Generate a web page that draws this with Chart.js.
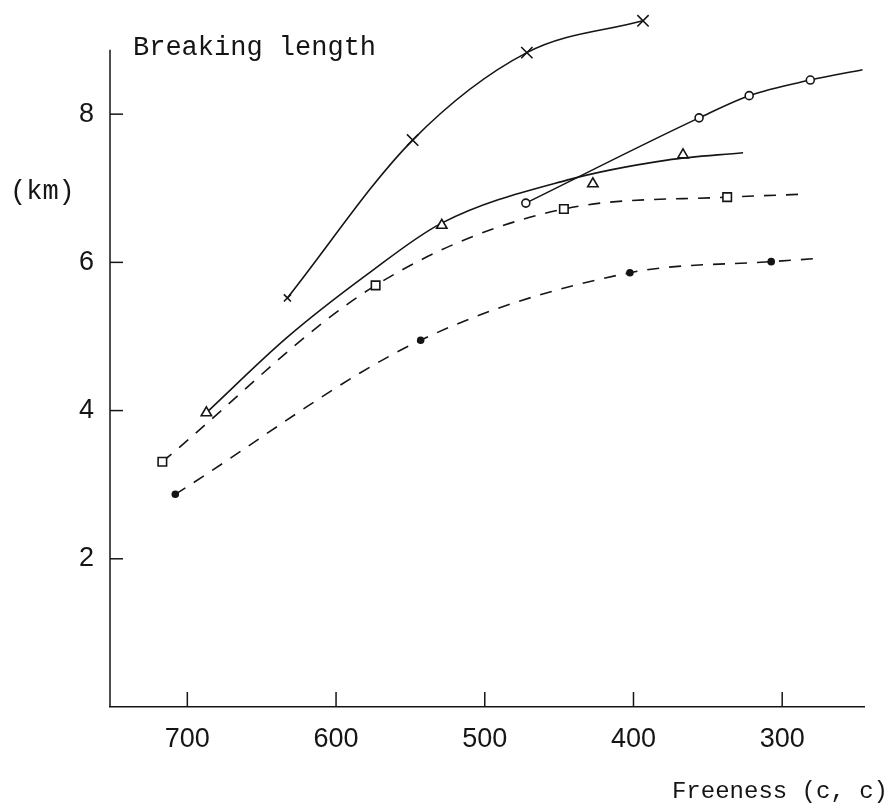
<!DOCTYPE html>
<html>
<head>
<meta charset="utf-8">
<script src="https://cdn.jsdelivr.net/npm/chart.js@4.4.0/dist/chart.umd.min.js"></script>
<style>
  html, body { margin: 0; padding: 0; background: #fff; }
  canvas { display: block; }
</style>
</head>
<body>
<canvas id="chart" width="895" height="808"></canvas>
<script>
// ticks
const xTicks = [700, 600, 500, 400, 300]
const yTicks = [2, 4, 6, 8]
const yAxisTop = 8.87 // drawn y axis stops here, marks may go above

// X marks (solid)
const crossX = [632.7, 548.5, 471.7, 393.6]
const crossY = [5.52, 7.65, 8.83, 9.26]

// circles (solid)
const circleX = [472.4, 355.9, 322.2, 281.1]
const circleY = [6.80, 7.95, 8.25, 8.46]
const circleCurveX = [472.4, 355.9, 322.2, 281.1, 246]
const circleCurveY = [6.80, 7.95, 8.25, 8.46, 8.60]

// triangles (solid)
const triX = [687.2, 528.9, 427.3, 366.7]
const triY = [3.97, 6.50, 7.06, 7.45]
const triCurveX = [687.2, 633.3, 579.5, 529, 444.8, 377.4, 326.3]
const triCurveY = [3.97, 4.98, 5.83, 6.53, 7.11, 7.38, 7.48]

// squares (dashed)
const squareX = [716.8, 573.4, 446.8, 337]
const squareY = [3.31, 5.69, 6.72, 6.88]
const squareCurveX = [716.8, 573.4, 446.8, 337, 285.9]
const squareCurveY = [3.31, 5.69, 6.72, 6.88, 6.92]

// dots (dashed)
const dotX = [708.1, 543.1, 402.4, 307.4]
const dotY = [2.87, 4.95, 5.86, 6.01]
const dotCurveX = [708.1, 543.1, 402.4, 307.4, 277.8]
const dotCurveY = [2.87, 4.95, 5.86, 6.01, 6.05]

const ink = '#151515'
const pts = (xs, ys) => xs.map((x, i) => ({ x: x, y: ys[i] }))

const curve = (xs, ys, dash) => ({
  data: pts(xs, ys),
  showLine: true,
  borderColor: ink,
  borderWidth: 1.6,
  borderDash: dash,
  pointRadius: 0,
  cubicInterpolationMode: 'monotone',
  clip: false,
  order: 1,
})

const marks = (xs, ys, style, radius, fill) => ({
  data: pts(xs, ys),
  showLine: false,
  pointStyle: style,
  pointRadius: radius,
  pointBorderColor: ink,
  pointBackgroundColor: fill,
  pointBorderWidth: 1.6,
  clip: false,
  order: 0,
})

const extras = {
  id: 'extras',
  afterDraw(chart) {
    const { ctx, scales: { x, y } } = chart
    ctx.save()
    ctx.strokeStyle = ink
    ctx.lineWidth = 1.5
    // y axis line, shorter than the plot area
    ctx.beginPath()
    ctx.moveTo(x.left, y.getPixelForValue(yAxisTop))
    ctx.lineTo(x.left, y.bottom)
    ctx.stroke()
    xTicks.forEach((v) => {
      const px = x.getPixelForValue(v)
      ctx.beginPath()
      ctx.moveTo(px, y.bottom)
      ctx.lineTo(px, y.bottom - 15)
      ctx.stroke()
    })
    yTicks.forEach((v) => {
      const py = y.getPixelForValue(v)
      ctx.beginPath()
      ctx.moveTo(x.left, py)
      ctx.lineTo(x.left + 13, py)
      ctx.stroke()
    })
    ctx.fillStyle = ink
    ctx.font = '27px "Liberation Mono", monospace'
    ctx.textBaseline = 'alphabetic'
    ctx.textAlign = 'left'
    ctx.fillText('Breaking length', 133, 55)
    ctx.fillText('(km)', 10, 199)
    ctx.font = '24px "Liberation Mono", monospace'
    ctx.textAlign = 'right'
    ctx.fillText('Freeness (c, c)', 888, 798)
    ctx.restore()
  },
}

new Chart(document.getElementById('chart').getContext('2d'), {
  type: 'scatter',
  data: {
    datasets: [
      curve(crossX, crossY, []),
      curve(circleCurveX, circleCurveY, []),
      curve(triCurveX, triCurveY, []),
      curve(squareCurveX, squareCurveY, [12, 10]),
      curve(dotCurveX, dotCurveY, [12, 10]),
      {
        ...marks(crossX, crossY, 'crossRot', 8, ink),
        pointRadius: (c) => (c.dataIndex === 0 ? 5 : 8),
      },
      marks(circleX, circleY, 'circle', 4, '#fff'),
      marks(triX, triY, 'triangle', 6, '#fff'),
      marks(squareX, squareY, 'rect', 6, '#fff'),
      marks(dotX, dotY, 'circle', 3, ink),
    ],
  },
  options: {
    responsive: false,
    animation: false,
    devicePixelRatio: 1,
    layout: {
      autoPadding: false,
      padding: { top: 3, right: 31, left: 0, bottom: 0 },
    },
    plugins: {
      legend: { display: false },
      tooltip: { enabled: false },
    },
    scales: {
      x: {
        type: 'linear',
        reverse: true,
        min: 245,
        max: 752,
        afterBuildTicks: (scale) => {
          scale.ticks = xTicks.map((v) => ({ value: v }))
        },
        afterFit: (scale) => {
          scale.height = 101
          scale.paddingLeft = 0
          scale.paddingRight = 0
        },
        grid: { display: false, drawTicks: false },
        border: { display: true, color: ink, width: 1.5 },
        ticks: {
          color: ink,
          padding: 16,
          font: { family: '"Liberation Sans", sans-serif', size: 27 },
        },
      },
      y: {
        type: 'linear',
        min: 0,
        max: 9.5,
        afterBuildTicks: (scale) => {
          scale.ticks = yTicks.map((v) => ({ value: v }))
        },
        afterFit: (scale) => {
          scale.width = 110
          scale.paddingTop = 0
          scale.paddingBottom = 0
        },
        grid: { display: false, drawTicks: false },
        border: { display: false },
        ticks: {
          color: ink,
          padding: 16,
          font: { family: '"Liberation Sans", sans-serif', size: 27 },
        },
      },
    },
  },
  plugins: [extras],
})
</script>
</body>
</html>
